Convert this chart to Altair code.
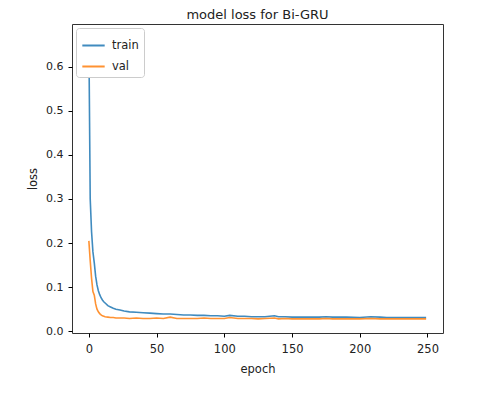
import altair as alt
import pandas as pd

epoch = [0, 1, 2, 3, 4, 5, 6, 7, 8, 9, 10, 11, 12, 14, 16, 18, 20, 23, 26, 30,
         35, 40, 45, 50, 55, 60, 65, 70, 75, 80, 85, 90, 95, 100, 104, 110, 115,
         120, 125, 130, 137, 140, 145, 150, 160, 170, 175, 180, 190, 200, 208,
         215, 220, 230, 240, 249]
train = [0.665, 0.30, 0.225, 0.18, 0.155, 0.125, 0.105, 0.092, 0.083, 0.076,
         0.071, 0.067, 0.064, 0.058, 0.055, 0.052, 0.050, 0.048, 0.046, 0.044,
         0.043, 0.042, 0.041, 0.040, 0.039, 0.039, 0.038, 0.037, 0.037, 0.036,
         0.036, 0.035, 0.035, 0.034, 0.036, 0.034, 0.034, 0.033, 0.033, 0.033,
         0.035, 0.033, 0.033, 0.032, 0.032, 0.032, 0.033, 0.032, 0.032, 0.031,
         0.033, 0.032, 0.031, 0.031, 0.031, 0.031]
val = [0.205, 0.16, 0.12, 0.09, 0.082, 0.062, 0.050, 0.044, 0.040, 0.037,
       0.035, 0.034, 0.033, 0.032, 0.031, 0.031, 0.030, 0.030, 0.030, 0.029,
       0.030, 0.029, 0.029, 0.030, 0.029, 0.032, 0.029, 0.029, 0.029, 0.029,
       0.030, 0.029, 0.029, 0.029, 0.031, 0.029, 0.029, 0.029, 0.028, 0.029,
       0.030, 0.028, 0.029, 0.028, 0.028, 0.028, 0.029, 0.028, 0.028, 0.028,
       0.029, 0.028, 0.028, 0.028, 0.028, 0.028]
series = ["train", "val"]
colors = ["#1f77b4", "#ff7f0e"]
x_ticks = [0, 50, 100, 150, 200, 250]
y_ticks = [0.0, 0.1, 0.2, 0.3, 0.4, 0.5, 0.6]

df = pd.concat([
    pd.DataFrame({"epoch": epoch, "loss": train, "series": "train"}),
    pd.DataFrame({"epoch": epoch, "loss": val, "series": "val"}),
])

font = "DejaVu Sans"

chart = alt.Chart(df).mark_line(strokeWidth=1.6, opacity=0.85).encode(
    x=alt.X("epoch:Q",
            scale=alt.Scale(domain=[-12.45, 261.45], nice=False, zero=False),
            axis=alt.Axis(title="epoch", values=x_ticks, grid=False, domain=False,
                          tickSize=4, tickColor="#000", labelFontSize=11.5,
                          labelColor="#222", titleFontSize=11.5, titleFontWeight="normal",
                          titleColor="#222", titlePadding=9, labelPadding=6,
                          labelFont=font, titleFont=font)),
    y=alt.Y("loss:Q",
            scale=alt.Scale(domain=[-0.004, 0.697], nice=False, zero=False),
            axis=alt.Axis(title="loss", values=y_ticks, format=".1f", grid=False,
                          domain=False, tickSize=4, tickColor="#000", labelFontSize=11,
                          labelColor="#222", titleFontSize=11.5, titleFontWeight="normal",
                          titleColor="#222", titlePadding=7, labelPadding=5,
                          labelFont=font, titleFont=font)),
    color=alt.Color("series:N",
                    scale=alt.Scale(domain=series, range=colors),
                    legend=alt.Legend(title=None, orient="top-left", offset=4,
                                      symbolType="stroke", symbolSize=500,
                                      symbolStrokeWidth=2, labelFontSize=11.5,
                                      labelFont=font, labelColor="#222",
                                      fillColor="white", strokeColor="#ccc",
                                      padding=5, cornerRadius=3, rowPadding=3,
                                      labelOffset=6)),
).properties(
    width=371,
    height=309,
    title=alt.TitleParams("model loss for Bi-GRU", fontSize=13, font=font,
                          fontWeight="normal", color="#222", offset=2),
    autosize=alt.AutoSizeParams(type="none"),
    padding={"left": 64, "top": 16, "right": 28, "bottom": 52},
).configure_view(
    stroke="#333", strokeWidth=1
)

chart.save("out.html", embed_options={"renderer": "svg", "actions": False})
